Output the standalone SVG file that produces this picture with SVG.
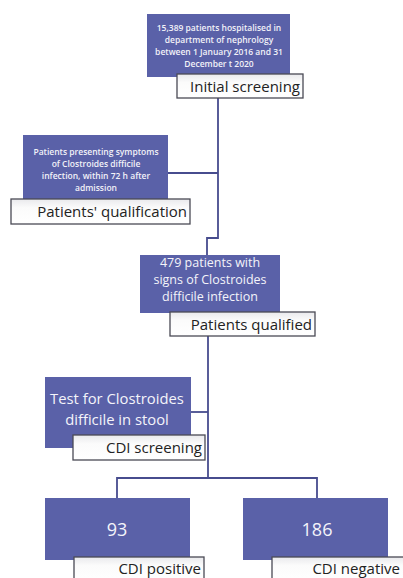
<svg xmlns="http://www.w3.org/2000/svg" width="403" height="578" viewBox="0 0 403 578">
<defs>
<linearGradient id="lbl" x1="0" y1="0" x2="0" y2="1">
<stop offset="0" stop-color="#e9e9ec"/>
<stop offset="0.35" stop-color="#fbfbfb"/>
<stop offset="1" stop-color="#ffffff"/>
</linearGradient>
</defs>
<style>
.blue{fill:#5a61a8;}
.label{fill:url(#lbl);stroke:#4a4a55;stroke-width:1.3;}
.lt{font-family:"Open Sans","Liberation Sans",sans-serif;font-size:15px;fill:#222;text-anchor:end;}
.small{font-family:"Open Sans","Liberation Sans",sans-serif;font-size:8.5px;font-weight:600;fill:#f2f2f8;text-anchor:middle;}
.mid{font-family:"Open Sans","Liberation Sans",sans-serif;font-size:12.5px;fill:#f4f4fa;text-anchor:middle;}
.big{font-family:"Open Sans","Liberation Sans",sans-serif;font-size:14.8px;fill:#f4f4fa;text-anchor:middle;}
.num{font-family:"Open Sans","Liberation Sans",sans-serif;font-size:18px;fill:#f4f4fa;text-anchor:middle;}
.conn{fill:none;stroke:#474c8e;stroke-width:1.8;}
</style>
<rect width="403" height="578" fill="#ffffff"/>
<g id="connectors">
<path class="conn" d="M218,98 V238 H207 V255"/>
<path class="conn" d="M168,173 H218"/>
<path class="conn" d="M208,335 V478"/>
<path class="conn" d="M191,412 H208"/>
<path class="conn" d="M117,498 V478 H317 V498"/>
</g>
<g id="node-initial">
<rect class="blue" x="147" y="14" width="143" height="63"/>
<text class="small" x="219" y="31">15,389 patients hospitalised in</text>
<text class="small" x="219" y="43">department of nephrology</text>
<text class="small" x="219" y="55">between 1 January 2016 and 31</text>
<text class="small" x="219" y="67">December t 2020</text>
<rect class="label" x="177" y="74" width="126" height="24"/>
<text class="lt" x="300" y="92">Initial screening</text>
</g>
<g id="node-qualification">
<rect class="blue" x="23" y="135" width="145" height="65"/>
<text class="small" x="96" y="155">Patients presenting symptoms</text>
<text class="small" x="96" y="167">of Clostroides difficile</text>
<text class="small" x="96" y="179">infection, within 72 h after</text>
<text class="small" x="96" y="191">admission</text>
<rect class="label" x="11" y="199" width="179" height="25"/>
<text class="lt" x="187" y="217">Patients' qualification</text>
</g>
<g id="node-qualified">
<rect class="blue" x="140" y="255" width="140" height="58"/>
<text class="mid" x="210" y="267">479 patients with</text>
<text class="mid" x="210" y="284">signs of Clostroides</text>
<text class="mid" x="210" y="301">difficile infection</text>
<rect class="label" x="170" y="312" width="145" height="24"/>
<text class="lt" x="312" y="330">Patients qualified</text>
</g>
<g id="node-cdi-screening">
<rect class="blue" x="45" y="377" width="146" height="71"/>
<text class="big" x="117" y="404">Test for Clostroides</text>
<text class="big" x="117" y="424.5">difficile in stool</text>
<rect class="label" x="73" y="435" width="132" height="25"/>
<text class="lt" x="202" y="453">CDI screening</text>
</g>
<g id="node-positive">
<rect class="blue" x="45" y="498" width="145" height="62"/>
<text class="num" x="117" y="536">93</text>
<rect class="label" x="74" y="557" width="130" height="24"/>
<text class="lt" x="201" y="574">CDI positive</text>
</g>
<g id="node-negative">
<rect class="blue" x="243" y="498" width="145" height="62"/>
<text class="num" x="317" y="536">186</text>
<rect class="label" x="272" y="557" width="134" height="24"/>
<text class="lt" x="400" y="574">CDI negative</text>
</g>
</svg>
